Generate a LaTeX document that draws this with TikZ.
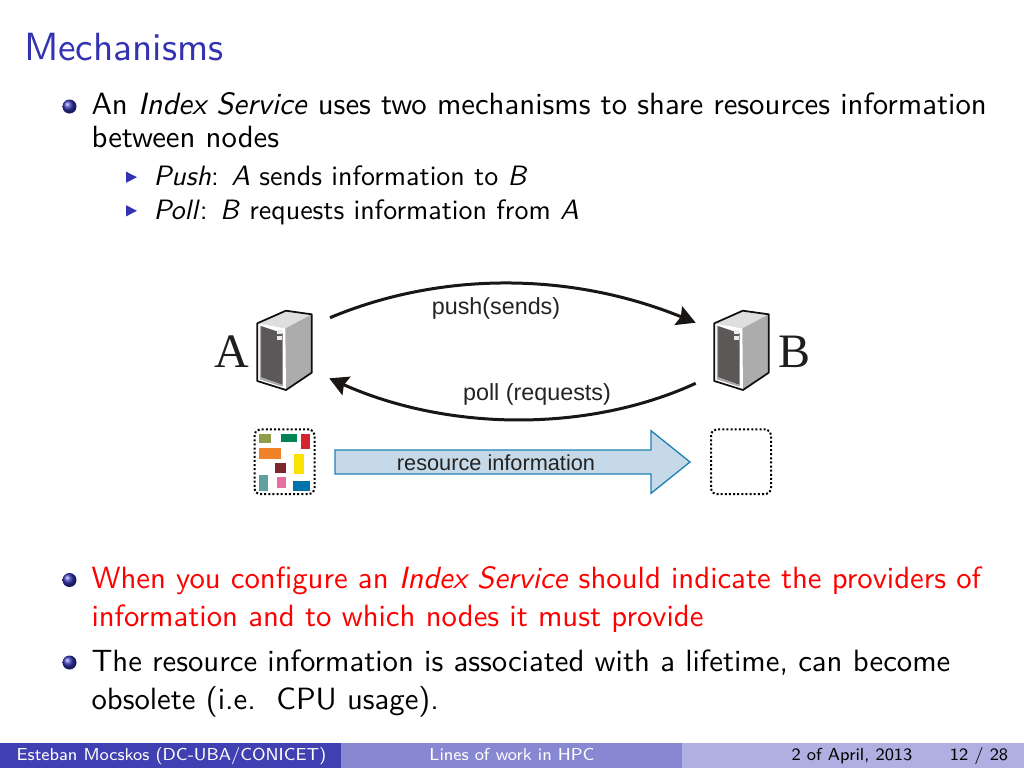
\documentclass[tikz,border=0pt]{standalone}
\usepackage{fontspec}
\usetikzlibrary{arrows.meta}
\definecolor{slideblue}{RGB}{51,51,178}
\setsansfont{lmsans10-regular.otf}[ItalicFont=lmsans10-oblique.otf]
\newfontfamily\footfont{lmsans8-regular.otf}
\newfontfamily\arialfont{Liberation Sans}
\newfontfamily\timesfont{Liberation Serif}

\tikzset{every picture/.style={line width=0.75pt}}
\tikzset{
  titletext/.style={anchor=base west,inner sep=0pt,text=slideblue,font=\sffamily\fontsize{29.5}{36}\selectfont},
  bodytext/.style={anchor=base west,inner sep=0pt,font=\sffamily\fontsize{23.05}{28}\selectfont},
  subtext/.style={anchor=base west,inner sep=0pt,font=\sffamily\fontsize{21}{26}\selectfont},
  foottext/.style={anchor=base,inner sep=0pt,font=\footfont\fontsize{13}{15}\selectfont},
  flowlabel/.style={inner sep=0pt,font=\arialfont\fontsize{17.5}{21}\selectfont,color={rgb, 255:red, 35; green, 35; blue, 35 }},
  hostlabel/.style={anchor=base,inner sep=0pt,font=\timesfont\fontsize{36}{40}\selectfont,color={rgb, 255:red, 30; green, 30; blue, 30 }},
  flowline/.style={line width=2.25pt,color={rgb, 255:red, 25; green, 22; blue, 20 },-{Stealth[length=14pt,width=15pt,inset=2pt]}},
  dotbox/.style={draw,inner sep=0pt,minimum width=45pt,minimum height=48.5pt,rounded corners=4pt,line width=1.5pt,dash pattern={on 1.5pt off 1.6pt}},
  ballbullet/.style={circle,inner sep=0pt,minimum size=10.5pt,ball color=slideblue},
  pics/subbullet/.style={code={\fill [slideblue] (0,-5.6) -- (11,0) -- (0,5.6) -- cycle ;}},
  pics/server/.style={code={
    %Shape: Case
    \fill [color={rgb, 255:red, 172; green, 172; blue, 172 }] (0,0) -- (28.5,-12.6) -- (54.4,-9) -- (54.4,49.4) -- (28.7,66.7) -- (0,57.7) -- cycle ;
    \fill [color={rgb, 255:red, 222; green, 222; blue, 222 }] (0,0) -- (28.5,-12.6) -- (54.4,-9) -- (28,5) -- cycle ;
    \fill [white] (0,0) -- (28,5) -- (28.7,66.7) -- (0,57.7) -- cycle ;
    %Shape: Panel
    \fill [color={rgb, 255:red, 92; green, 88; blue, 88 }] (3.7,2.7) -- (25.4,10) -- (25.4,61.7) -- (3.7,54) -- cycle ;
    \fill [color={rgb, 255:red, 168; green, 168; blue, 168 }] (3.7,54) -- (25.4,61.7) -- (25.4,63.5) -- (2.5,56) -- (2.5,2.3) -- (3.7,2.7) -- cycle ;
    \fill [color={rgb, 255:red, 235; green, 235; blue, 235 }] (20,6.7) rectangle (24.7,10.7) ;
    \fill [color={rgb, 255:red, 235; green, 235; blue, 235 }] (20,12.4) rectangle (24.7,16.7) ;
    %Shape: Outline
    \draw [line width=1.3pt,line join=round,color={rgb, 255:red, 15; green, 15; blue, 15 }] (0,0) -- (28.5,-12.6) -- (54.4,-9) -- (54.4,49.4) -- (28.7,66.7) -- (0,57.7) -- cycle ;
  }}
}

\begin{document}
\begin{tikzpicture}[x=0.75pt,y=0.75pt,yscale=-1,xscale=1]
\useasboundingbox (0,0) rectangle (1024,768);

% Text Node
\draw (23.5,60) node (title) [titletext] {Mechanisms};
% Bullets
\draw (69.5,106.5) node (ballone) [ballbullet] {};
\draw (69.5,580) node (balltwo) [ballbullet] {};
\draw (69.5,662.5) node (ballthree) [ballbullet] {};
\path (126,177.2) pic {subbullet};
\path (126,210.8) pic {subbullet};
% Text Node
\draw (91,114) node (lineone) [bodytext] {\hbox to 671.5pt{An \textit{Index Service} uses two mechanisms to share resources information}};
\draw (91,147) node (linetwo) [bodytext] {between nodes};
\draw (153,185.7) node (pushline) [subtext] {\textit{Push}: \textit{A} sends information to \textit{B}};
\draw (153,219.5) node (pollline) [subtext] {\textit{Poll}: \textit{B} requests information from \textit{A}};
\draw (91,588) node (redone) [bodytext,text=red] {When you configure an \textit{Index Service} should indicate the providers of};
\draw (91,626) node (redtwo) [bodytext,text=red] {information and to which nodes it must provide};
\draw (91,671) node (lastone) [bodytext] {The resource information is associated with a lifetime, can become};
\draw (91,709) node (lasttwo) [bodytext] {obsolete (i.e.\ \ CPU usage).};

%Servers
\path (257.3,323.3) pic [transform shape] {server};
\path (714.3,323.3) pic [transform shape] {server};
\draw (232,367) node (hosta) [hostlabel] {A};
\draw (794,367) node (hostb) [hostlabel] {B};

%Curve Lines
\coordinate (pushstart) at (330,317.7);
\coordinate (pushend) at (695.7,322.7);
\coordinate (pollstart) at (695.7,383.3);
\coordinate (pollend) at (329.3,378.3);
\draw [flowline] (pushstart) .. controls (440,271.5) and (570,271.5) .. (pushend) ;
\draw [flowline] (pollstart) .. controls (590,432) and (450,432) .. (pollend) ;
\draw (496,308.5) node (pushlabel) [flowlabel] {push(sends)};
\draw (537,394) node (polllabel) [flowlabel] {poll (requests)};

%Shape: Block Arrow
\draw [line width=1pt,color={rgb, 255:red, 30; green, 130; blue, 180 },fill={rgb, 255:red, 197; green, 217; blue, 232 }] (335,450) -- (651,450) -- (651,430.7) -- (690,462) -- (651,493.3) -- (651,474) -- (335,474) -- cycle ;
\draw (496,463) node (infolabel) [flowlabel,font=\arialfont\fontsize{16.3}{20}\selectfont] {resource information};

%Shape: Boxes
\draw (284.5,461.8) node (boxa) [dotbox] {};
\draw (741,461.8) node (boxb) [dotbox] {};
\fill [color={rgb, 255:red, 143; green, 158; blue, 75 }] (259,434) rectangle (270.7,443.3) ;
\fill [color={rgb, 255:red, 0; green, 130; blue, 85 }] (281.3,434) rectangle (296.7,442.3) ;
\fill [color={rgb, 255:red, 215; green, 35; blue, 45 }] (301.3,434) rectangle (309.7,449.3) ;
\fill [color={rgb, 255:red, 240; green, 130; blue, 40 }] (259,448) rectangle (281.3,458.7) ;
\fill [color={rgb, 255:red, 250; green, 225; blue, 0 }] (294,454) rectangle (304,474) ;
\fill [color={rgb, 255:red, 125; green, 40; blue, 45 }] (274.7,462.7) rectangle (286.3,472.7) ;
\fill [color={rgb, 255:red, 95; green, 160; blue, 160 }] (259,475.3) rectangle (268,490.7) ;
\fill [color={rgb, 255:red, 230; green, 110; blue, 160 }] (277.3,477.3) rectangle (286.3,488.3) ;
\fill [color={rgb, 255:red, 0; green, 115; blue, 170 }] (293.3,481.3) rectangle (309.7,490.7) ;

%Footer
\fill [color={rgb, 255:red, 64; green, 64; blue, 178 }] (0,743) rectangle (341,768) ;
\fill [color={rgb, 255:red, 135; green, 135; blue, 210 }] (341,743) rectangle (682,768) ;
\fill [color={rgb, 255:red, 175; green, 175; blue, 225 }] (682,743) rectangle (1024,768) ;
\draw (171.5,760.5) node (footauthor) [foottext,text=white] {Esteban Mocskos (DC-UBA/CONICET)};
\draw (512,760.5) node (foottitle) [foottext,text=white] {Lines of work in HPC};
\draw (852,760.5) node (footdate) [foottext,text=black] {2 of April, 2013};
\draw (979,760.5) node (footpage) [foottext,text=black] {12 / 28};

\end{tikzpicture}
\end{document}
